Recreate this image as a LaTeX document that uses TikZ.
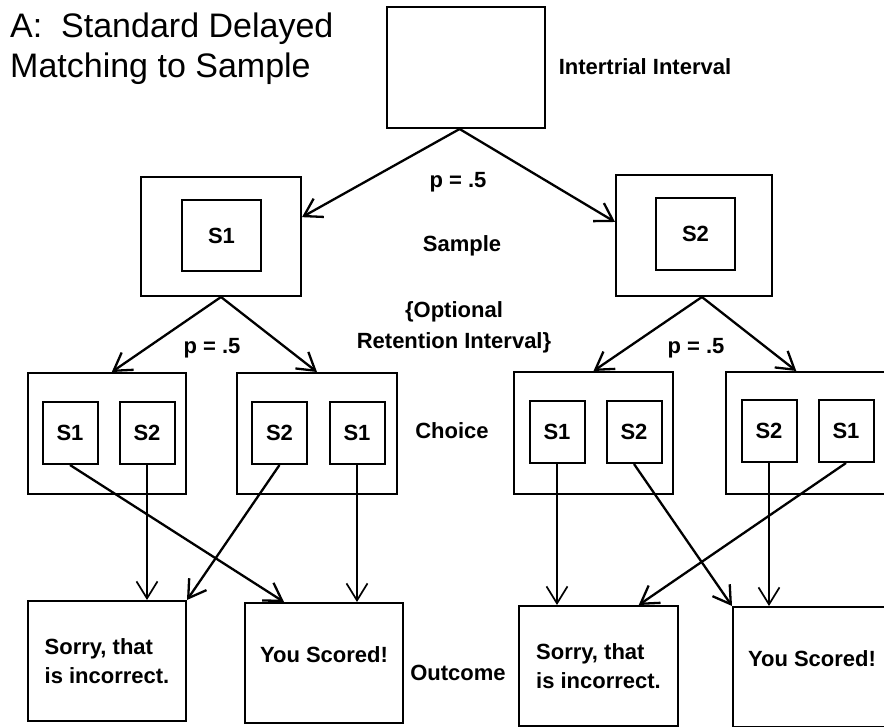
\documentclass[tikz,border=0pt]{standalone}
\usepackage{fontspec}
\setmainfont{Liberation Sans}
\usetikzlibrary{arrows.meta,calc}
\newcommand{\labfont}{\fontsize{22}{29}\selectfont\bfseries}
\newcommand{\ttlfont}{\fontsize{34}{40}\selectfont}
\tikzset{
  box/.style={draw, line width=2pt, inner sep=0pt, font=\labfont},
  framebox/.style={box, minimum width=#1, minimum height=121pt},
  stimbox/.style={box, minimum width=55pt, minimum height=62pt},
  sorrybox/.style={box, align=left, minimum width=158pt, minimum height=120pt},
  scorebox/.style={box, text depth=16pt, minimum width=158pt, minimum height=120pt},
  lbl/.style={anchor=base, font=\labfont, inner sep=0pt},
  conn/.style={line width=2.3pt, -{Straight Barb[length=17pt,width=21pt]}},
  connthin/.style={conn, line width=1.7pt}
}
\begin{document}
\begin{tikzpicture}[x=1pt, y=-1pt]
    \clip (0,0) rectangle (884,726);

    % Titel
    \node[anchor=base west, font=\ttlfont, inner sep=0pt] (ttla) at (10,37)
    {A:\ \ Standard Delayed};
    \node[anchor=base west, font=\ttlfont, inner sep=0pt] (ttlb) at (10,77)
    {Matching to Sample};

    % Intertrial
    \node[framebox=158pt] (iti) at (466,67.5) {};
    \node[lbl] (itilbl) at (645,74) {Intertrial Interval};

    % Sample
    \node[framebox=160pt, minimum height=119pt] (sam1) at (221,236.5) {};
    \node[box, minimum width=79pt, minimum height=71pt] (sam1s) at (221.5,235.5) {S1};
    \node[framebox=156pt] (sam2) at (694,235.5) {};
    \node[box, minimum width=79pt, minimum height=72pt] (sam2s) at (695.5,234) {S2};

    \node[lbl] (pa) at (458,187) {p = .5};
    \node[lbl] (samlbl) at (462,251) {Sample};
    \node[lbl] (reta) at (454,317) {\{Optional};
    \node[lbl] (retb) at (454,348) {Retention Interval\}};

    % Choice
    \node[framebox=158pt] (ch1) at (107,433.5) {};
    \node[stimbox] (ch1a) at (70,433) {S1};
    \node[stimbox] (ch1b) at (147,433) {S2};
    \node[framebox=160pt] (ch2) at (317,433.5) {};
    \node[stimbox] (ch2a) at (279.5,433) {S2};
    \node[stimbox] (ch2b) at (357,433) {S1};
    \node[framebox=159pt, minimum height=122pt] (ch3) at (593.5,433) {};
    \node[stimbox] (ch3a) at (557,432) {S1};
    \node[stimbox] (ch3b) at (634,432) {S2};
    \node[framebox=160pt, minimum height=122pt] (ch4) at (806,433) {};
    \node[stimbox] (ch4a) at (769,431) {S2};
    \node[stimbox] (ch4b) at (846,431) {S1};

    \node[lbl] (pb) at (212,353) {p = .5};
    \node[lbl] (pc) at (696,353) {p = .5};
    \node[lbl] (chlbl) at (452,438) {Choice};

    % Outcome
    \node[sorrybox] (out1) at (107,661) {Sorry, that\\is incorrect.};
    \node[scorebox] (out2) at (324,663) {You Scored!};
    \node[sorrybox, minimum width=159pt] (out3) at (598.5,666) {Sorry, that\\is incorrect.};
    \node[scorebox] (out4) at (812,667) {You Scored!};
    \node[lbl] (outlbl) at (458,680) {Outcome};

    % Pfeile
    \draw[conn] ($(iti.south west)!0.46!(iti.south east)$)
    -- ($(sam1.north east)!0.34!(sam1.south east)$);
    \draw[conn] ($(iti.south west)!0.46!(iti.south east)$)
    -- ($(sam2.north west)!0.39!(sam2.south west)$);

    \draw[conn] (sam1.south) -- ($(ch1.north west)!0.53!(ch1.north east)$);
    \draw[conn] (sam1.south) -- (ch2.north);
    \draw[conn] ($(sam2.south west)!0.55!(sam2.south east)$) -- (ch3.north);
    \draw[conn] ($(sam2.south west)!0.55!(sam2.south east)$)
    -- ($(ch4.north west)!0.44!(ch4.north east)$);

    \draw[conn] (ch1a.south) -- ($(out2.north west)!0.25!(out2.north east)$);
    \draw[connthin] (ch1b.south) -- (ch1b.south |- out1.north);
    \draw[conn] (ch2a.south) -- (out1.north east);
    \draw[connthin] (ch2b.south) -- (ch2b.south |- out2.north);

    \draw[connthin] (ch3a.south) -- (ch3a.south |- out3.north);
    \draw[conn] (ch3b.south) -- (out4.north west);
    \draw[connthin] (ch4a.south) -- (ch4a.south |- out4.north);
    \draw[conn] (ch4b.south) -- ($(out3.north west)!0.75!(out3.north east)$);

\end{tikzpicture}
\end{document}
